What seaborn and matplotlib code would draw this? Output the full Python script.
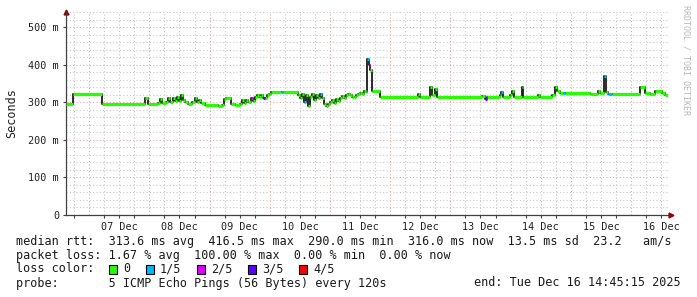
import numpy as np
import pandas as pd
import matplotlib
matplotlib.use("Agg")
import matplotlib.pyplot as plt
import matplotlib.dates as mdates
from matplotlib.ticker import MultipleLocator, FuncFormatter, NullFormatter
from matplotlib.patches import Rectangle
import seaborn as sns

# ---------------- data ----------------
start_time = "2025-12-06 14:45:15"
end_time = "2025-12-16 14:45:15"

# hours since start of each step of the median rtt
hours = [0, 2.8, 14.4, 31.5, 32.7, 36.7, 37.5, 38.3, 39.9, 40.7,
         41.5, 42.7, 43.5, 44.3, 45.1, 45.9, 46.6, 47.4, 48.6, 50.2,
         51.4, 52.2, 53.0, 53.8, 55.4, 60.6, 62.2, 63.0, 63.8, 65.8,
         67.4, 69.4, 70.2, 71.0, 71.8, 72.6, 73.8, 74.6, 75.4, 76.2,
         77.0, 77.7, 78.5, 79.3, 80.1, 80.9, 81.7, 85.7, 86.5, 92.5,
         93.3, 94.1, 94.9, 95.7, 96.5, 97.3, 98.1, 98.9, 99.7, 100.5,
         101.3, 102.1, 102.9, 103.7, 104.5, 105.3, 106.1, 106.9, 107.6, 108.4,
         109.2, 110.0, 110.8, 111.6, 112.4, 113.2, 114.0, 114.8, 115.6, 116.4,
         117.2, 118.0, 118.8, 119.6, 120.0, 120.8, 121.2, 122.0, 125.2, 140.3,
         141.1, 145.1, 145.9, 147.1, 147.9, 165.9, 167.1, 167.9, 173.0, 173.4,
         174.2, 177.0, 177.8, 178.6, 181.8, 182.2, 188.2, 189.0, 193.8, 195.0,
         195.8, 197.0, 198.2, 199.0, 208.9, 212.1, 212.9, 214.5, 215.3, 216.1,
         217.7, 228.9, 230.9, 232.9, 234.9, 237.6, 238.8]

# median rtt in ms
rtt_ms = [295, 323, 296, 310, 296, 298, 308, 297, 300, 310,
          300, 312, 302, 315, 303, 320, 305, 300, 296, 300,
          310, 300, 305, 298, 293, 290, 293, 308, 311, 296,
          292, 296, 305, 298, 307, 300, 310, 303, 315, 320,
          313, 318, 312, 310, 318, 322, 328, 328, 328, 318,
          310, 322, 300, 320, 290, 315, 322, 305, 320, 311,
          322, 310, 296, 290, 295, 300, 305, 298, 308, 303,
          312, 316, 310, 320, 323, 318, 315, 313, 318, 322,
          325, 322, 330, 328, 416, 400, 385, 330, 313, 323,
          313, 340, 318, 335, 315, 317, 308, 313, 318, 326,
          313, 320, 330, 313, 340, 313, 320, 313, 320, 340,
          330, 325, 325, 325, 322, 330, 325, 370, 328, 322,
          322, 340, 325, 323, 330, 325, 318]

# lost pings out of 5 for each step
loss = [0, 0, 0, 0, 0, 0, 0, 0, 0, 0,
        0, 0, 0, 0, 0, 0, 0, 0, 0, 0,
        0, 0, 0, 0, 0, 0, 0, 0, 0, 0,
        0, 0, 0, 0, 0, 0, 2, 0, 0, 0,
        0, 0, 3, 0, 0, 0, 0, 1, 0, 0,
        0, 0, 1, 0, 0, 0, 0, 0, 0, 0,
        1, 0, 0, 0, 0, 0, 0, 0, 0, 0,
        0, 0, 0, 0, 0, 0, 0, 0, 0, 0,
        0, 0, 0, 0, 1, 2, 0, 0, 0, 0,
        0, 0, 0, 0, 0, 0, 3, 0, 0, 1,
        0, 0, 0, 0, 0, 0, 0, 0, 0, 0,
        0, 0, 1, 0, 0, 0, 0, 1, 0, 1,
        0, 0, 0, 0, 0, 0, 0]

loss_labels = ["0", "1/5", "2/5", "3/5", "4/5"]
loss_colors = ["#26ff00", "#00b8ff", "#dd00ff", "#5e00ff", "#ff0000"]

stats_rtt = "median rtt:  313.6 ms avg  416.5 ms max  290.0 ms min  316.0 ms now  13.5 ms sd  23.2   am/s"
stats_loss = "packet loss: 1.67 % avg  100.00 % max  0.00 % min  0.00 % now"
probe_text = "probe:       5 ICMP Echo Pings (56 Bytes) every 120s"
end_text = "end: Tue Dec 16 14:45:15 2025"

# ---------------- figure ----------------
sns.set_theme(style="white")
plt.rcParams["font.family"] = ["DejaVu Sans Mono", "DejaVu Sans"]

W, H = 697, 297
fig = plt.figure(figsize=(W / 100, H / 100), dpi=100)
fig.patch.set_facecolor("white")
ax = fig.add_axes([66 / W, 1 - 215 / H, 602 / W, 203 / H])
ax.set_facecolor("white")

t0 = pd.Timestamp(start_time)
t_end = pd.Timestamp(end_time)
df = pd.DataFrame({
    "time": t0 + pd.to_timedelta(hours, unit="h"),
    "rtt": np.array(rtt_ms, dtype=float),
    "loss": loss,
})
df["time_next"] = list(df["time"].iloc[1:]) + [t_end]

# smoke / transitions (dark step line)
sns.lineplot(data=df, x="time", y="rtt", drawstyle="steps-post",
             color="#1a1a1a", linewidth=1.3, ax=ax, legend=False, zorder=3)
# median line coloured by loss
for lvl, col in enumerate(loss_colors):
    sub = df[df["loss"] == lvl]
    if len(sub):
        ax.hlines(sub["rtt"], mdates.date2num(sub["time"]), mdates.date2num(sub["time_next"]),
                  colors=col, linewidth=2.3, zorder=4)

ax.set_xlim(t0, t_end)
ax.set_ylim(0, 540)

# grid
ax.xaxis.set_major_locator(mdates.DayLocator())
ax.xaxis.set_major_formatter(NullFormatter())
ax.xaxis.set_minor_locator(mdates.HourLocator(byhour=[0, 6, 12, 18]))
ax.xaxis.set_minor_formatter(FuncFormatter(
    lambda v, p: mdates.num2date(v).strftime("%d %b") if mdates.num2date(v).hour == 12 else ""))
ax.yaxis.set_major_locator(MultipleLocator(100))
ax.yaxis.set_minor_locator(MultipleLocator(20))
ax.yaxis.set_major_formatter(FuncFormatter(lambda v, p: "0" if v == 0 else f"{int(v)} m"))

ax.grid(which="major", axis="both", color="#e8a8a8", linestyle=(0, (1, 2)), linewidth=0.8, zorder=0)
ax.grid(which="minor", axis="both", color="#c8c8c8", linestyle=(0, (1, 2)), linewidth=0.8, zorder=0)
ax.set_axisbelow(True)

ax.tick_params(axis="y", which="major", length=2, width=0.8, color="#404040",
               labelsize=7.3, pad=3, labelcolor="#202020", left=True)
ax.tick_params(axis="y", which="minor", length=0)
ax.tick_params(axis="x", which="major", length=0)
ax.tick_params(axis="x", which="minor", length=2, width=0.8, color="#404040",
               labelsize=7.3, pad=3, labelcolor="#202020", bottom=True)

for s in ["top", "right"]:
    ax.spines[s].set_visible(False)
for s in ["left", "bottom"]:
    ax.spines[s].set_color("#404040")
    ax.spines[s].set_linewidth(0.9)

ax.set_xlabel("")
ax.set_ylabel("Seconds", fontsize=8.5, color="#202020", labelpad=7)

# axis arrows
ax.plot([0], [1.0], marker="^", markersize=3.5, color="#990000", transform=ax.transAxes, clip_on=False)
ax.plot([1.005], [0], marker=">", markersize=3.5, color="#990000", transform=ax.transAxes, clip_on=False)

# watermark
fig.text(686 / W, 1 - 5 / H, "RRDTOOL / TOBI OETIKER", rotation=270, fontsize=6,
         color="#b8b8b8", ha="center", va="top")

# legend text
fs = 8.5
tc = "#1a1a1a"
fig.text(16 / W, 1 - 241 / H, stats_rtt, fontsize=fs, color=tc, va="center", ha="left")
fig.text(16 / W, 1 - 255 / H, stats_loss, fontsize=fs, color=tc, va="center", ha="left")
fig.text(16 / W, 1 - 269 / H, "loss color:", fontsize=fs, color=tc, va="center", ha="left")
box_x = [109, 146, 197, 248, 299]
for bx, lab, col in zip(box_x, loss_labels, loss_colors):
    fig.patches.append(Rectangle((bx / W, 1 - 273.5 / H), 8 / W, 9 / H, transform=fig.transFigure,
                                 facecolor=col, edgecolor="#000000", linewidth=0.8))
    fig.text((bx + 14) / W, 1 - 269 / H, lab, fontsize=fs, color=tc, va="center", ha="left")
fig.text(16 / W, 1 - 283 / H, probe_text, fontsize=fs, color=tc, va="center", ha="left")
fig.text(681 / W, 1 - 283 / H, end_text, fontsize=fs, color=tc, va="center", ha="right")

fig.savefig("out.png", dpi=100, facecolor="white")
